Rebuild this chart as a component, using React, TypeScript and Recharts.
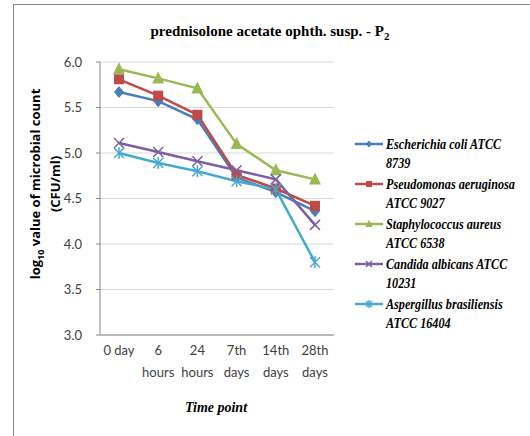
import React from "react";
import { CartesianGrid, Line, LineChart, XAxis, YAxis } from "recharts";

const timePoints = ["0 day", "6\nhours", "24\nhours", "7th\ndays", "14th\ndays", "28th\ndays"];
const eColi = [5.67, 5.57, 5.37, 4.73, 4.57, 4.36];
const pAeruginosa = [5.81, 5.63, 5.42, 4.76, 4.61, 4.42];
const sAureus = [5.92, 5.82, 5.71, 5.1, 4.81, 4.71];
const cAlbicans = [5.11, 5.01, 4.91, 4.81, 4.71, 4.21];
const aBrasiliensis = [5.0, 4.89, 4.8, 4.69, 4.6, 3.8];
const yTicks = [3.0, 3.5, 4.0, 4.5, 5.0, 5.5, 6.0];

const series = [
  { key: "ec", name: ["Escherichia coli ATCC", "8739"], color: "#4A7EBB", shape: "diamond", values: eColi },
  { key: "pa", name: ["Pseudomonas aeruginosa", "ATCC 9027"], color: "#BE4B48", shape: "square", values: pAeruginosa },
  { key: "sa", name: ["Staphylococcus aureus", "ATCC 6538"], color: "#98B954", shape: "triangle", values: sAureus },
  { key: "ca", name: ["Candida albicans ATCC", "10231"], color: "#7D60A0", shape: "x", values: cAlbicans },
  { key: "ab", name: ["Aspergillus brasiliensis", "ATCC 16404"], color: "#46AACF", shape: "star", values: aBrasiliensis },
];

const data = timePoints.map((t, i) => {
  const row: Record<string, any> = { t };
  series.forEach((s) => (row[s.key] = s.values[i]));
  return row;
});

function Marker({ cx, cy, shape, color, r = 1 }: any) {
  if (cx == null || cy == null) return null;
  if (shape === "diamond")
    return <polygon points={`${cx},${cy - 6 * r} ${cx + 5 * r},${cy} ${cx},${cy + 6 * r} ${cx - 5 * r},${cy}`} fill={color} />;
  if (shape === "square") return <rect x={cx - 5 * r} y={cy - 5 * r} width={10 * r} height={10 * r} fill={color} />;
  if (shape === "triangle")
    return <polygon points={`${cx},${cy - 7 * r} ${cx + 6 * r},${cy + 5 * r} ${cx - 6 * r},${cy + 5 * r}`} fill={color} />;
  const d = 5 * r;
  if (shape === "x")
    return (
      <g stroke={color} strokeWidth={1.5}>
        <line x1={cx - d} y1={cy - d} x2={cx + d} y2={cy + d} />
        <line x1={cx - d} y1={cy + d} x2={cx + d} y2={cy - d} />
      </g>
    );
  return (
    <g stroke={color} strokeWidth={1.5}>
      <line x1={cx - d} y1={cy - d} x2={cx + d} y2={cy + d} />
      <line x1={cx - d} y1={cy + d} x2={cx + d} y2={cy - d} />
      <line x1={cx} y1={cy - d - 1} x2={cx} y2={cy + d + 1} />
    </g>
  );
}

function XTick({ x, y, payload }: any) {
  const lines = String(payload.value).split("\n");
  return (
    <text x={x} y={y + 12} textAnchor="middle" fill="#404040" fontSize={13} fontFamily="Lato, sans-serif">
      {lines.map((l, i) => (
        <tspan key={i} x={x} dy={i === 0 ? 0 : 22}>
          {l}
        </tspan>
      ))}
    </text>
  );
}

const serif = "'Liberation Serif', 'Times New Roman', serif";

export default function App() {
  return (
    <div style={{ position: "absolute", left: 0, top: 0, width: 530, height: 436, background: "#fff" }}>
      <LineChart
        width={530}
        height={436}
        data={data}
        margin={{ top: 62, right: 196, bottom: 41, left: 60 }}
      >
        <CartesianGrid stroke="#D9D9D9" vertical={false} />
        <XAxis
          dataKey="t"
          stroke="#868686"
          tickLine={false}
          interval={0}
          tick={<XTick />}
          height={60}
          padding={{ left: 19, right: 19 }}
        />
        <YAxis
          domain={[3, 6]}
          ticks={yTicks}
          width={40}
          stroke="#868686"
          tickSize={4}
          tickMargin={14}
          tickFormatter={(v: number) => v.toFixed(1)}
          tick={{ fill: "#404040", fontSize: 13, fontFamily: "Lato, sans-serif" }}
        />
        {series.map((s) => (
          <Line
            key={s.key}
            dataKey={s.key}
            stroke={s.color}
            strokeWidth={2.5}
            isAnimationActive={false}
            dot={(p: any) => <Marker key={`${s.key}-${p.index}`} cx={p.cx} cy={p.cy} shape={s.shape} color={s.color} />}
            activeDot={false}
          />
        ))}
      </LineChart>
      <svg
        width={530}
        height={436}
        style={{ position: "absolute", left: 0, top: 0, pointerEvents: "none" }}
      >
        <rect x={13.5} y={4.5} width={530} height={440} fill="none" stroke="#868686" />
        <text x={270} y={36} textAnchor="middle" fontFamily={serif} fontWeight="bold" fontSize={15} fill="#000">
          prednisolone acetate ophth. susp. - P
          <tspan dy={4} fontSize={11}>2</tspan>
        </text>
        <text
          transform="translate(40,184) rotate(-90)"
          textAnchor="middle"
          fontFamily="'Open Sans', sans-serif"
          fontWeight="bold"
          fontSize={13}
          fill="#000"
        >
          log<tspan dy={4} fontSize={9}>10</tspan>
          <tspan dy={-4}> value of microbial count</tspan>
        </text>
        <text
          transform="translate(60,184) rotate(-90)"
          textAnchor="middle"
          fontFamily="'Open Sans', sans-serif"
          fontWeight="bold"
          fontSize={13}
          fill="#000"
        >
          (CFU/ml)
        </text>
        <text x={216} y={412} textAnchor="middle" fontFamily={serif} fontWeight="bold" fontStyle="italic" fontSize={14} fill="#000">
          Time point
        </text>
        {series.map((s, i) => {
          const y = 144 + i * 40;
          return (
            <g key={s.key}>
              <line x1={355} y1={y} x2={383} y2={y} stroke={s.color} strokeWidth={2.5} />
              <Marker cx={369} cy={y} shape={s.shape} color={s.color} r={0.6} />
              <g transform="translate(386,0) scale(0.87,1)">
                <text fontFamily={serif} fontWeight="bold" fontStyle="italic" fontSize={14} fill="#000">
                  <tspan x={0} y={y + 5}>{s.name[0]}</tspan>
                  <tspan x={0} y={y + 24}>{s.name[1]}</tspan>
                </text>
              </g>
            </g>
          );
        })}
      </svg>
    </div>
  );
}
